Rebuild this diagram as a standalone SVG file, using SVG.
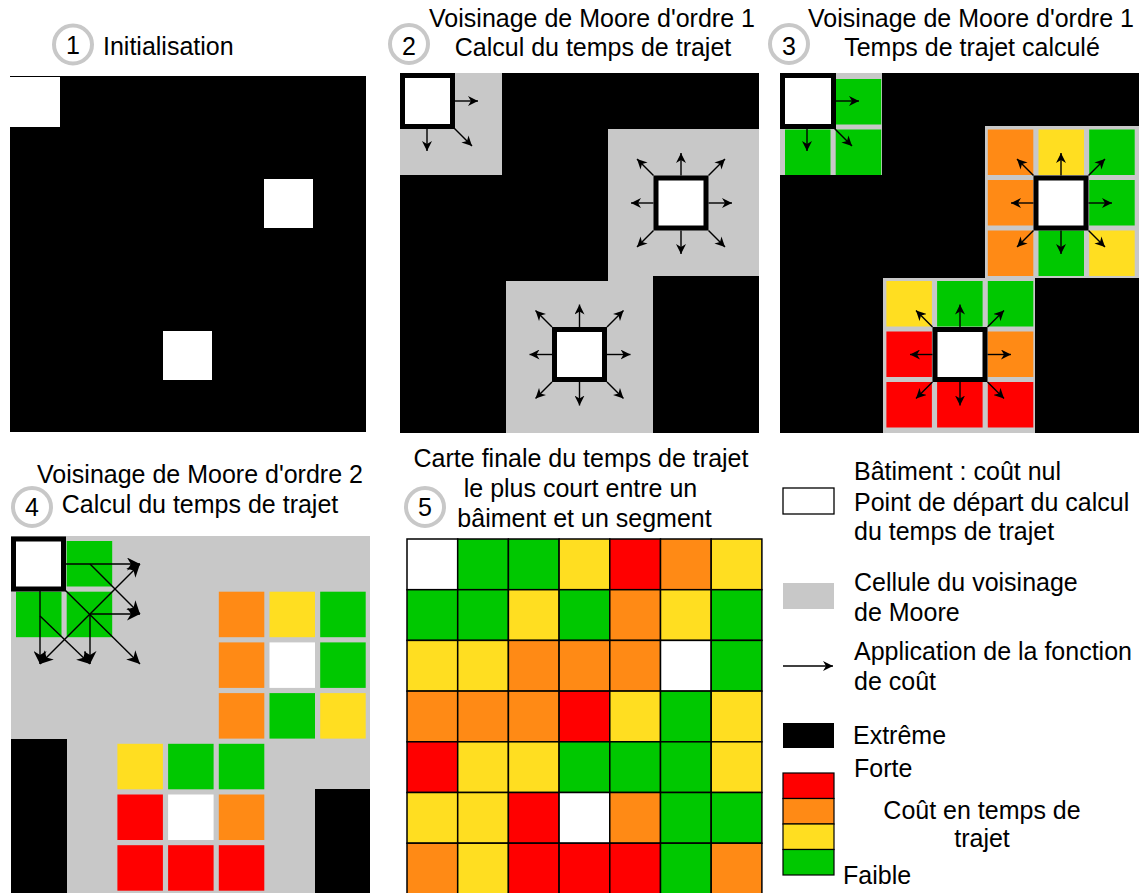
<svg xmlns="http://www.w3.org/2000/svg" width="1144" height="893" viewBox="0 0 1144 893">
<style>
.t{font-family:"Liberation Sans",Arial,Helvetica,sans-serif;font-size:25px;fill:#000}
.m{text-anchor:middle}
.num{fill:#fff;stroke:#c8c8c8;stroke-width:4}
.w{fill:#fff}.g{fill:#00c800}.y{fill:#ffde21}.o{fill:#ff8a15}.r{fill:#ff0000}.k{fill:#000}.gr{fill:#c8c8c8}
.box{fill:#fff;stroke:#000;stroke-width:5}
.a{stroke:#000;stroke-width:1.4;fill:none;marker-end:url(#ah)}
.aL{stroke:#000;stroke-width:1.4;fill:none;marker-end:url(#ahL)}
.c5 rect{stroke:#000;stroke-width:1.5}
</style>
<defs>
<marker id="ah" viewBox="0 0 10 10" refX="10" refY="5" markerWidth="10" markerHeight="10" markerUnits="userSpaceOnUse" orient="auto"><path d="M0,0 L10,5 L0,10 L3,5 z" fill="#000"/></marker>
<marker id="ahL" viewBox="0 0 10 10" refX="10" refY="5" markerWidth="13" markerHeight="13" markerUnits="userSpaceOnUse" orient="auto"><path d="M0,0 L10,5 L0,10 L3,5 z" fill="#000"/></marker>
<g id="star">
<line class="a" x1="0" y1="-27.5" x2="0" y2="-50"/>
<line class="a" x1="0" y1="27.5" x2="0" y2="51"/>
<line class="a" x1="27.5" y1="0" x2="51" y2="0"/>
<line class="a" x1="-27.5" y1="0" x2="-50" y2="0"/>
<line class="a" x1="27.5" y1="-27.5" x2="44" y2="-44"/>
<line class="a" x1="-27.5" y1="-27.5" x2="-44" y2="-44"/>
<line class="a" x1="27.5" y1="27.5" x2="44" y2="44"/>
<line class="a" x1="-27.5" y1="27.5" x2="-44" y2="44"/>
</g>
</defs>
<rect width="1144" height="893" fill="#fff"/>

<!-- Panel 1 -->
<g id="panel1">
<circle class="num" cx="73" cy="44.5" r="19"/>
<text class="t m" x="73" y="54">1</text>
<text class="t" x="103" y="55">Initialisation</text>
<rect class="k" x="10" y="76" width="356" height="356"/>
<rect class="w" x="10" y="77" width="50" height="50"/>
<rect class="w" x="264" y="179" width="49" height="49"/>
<rect class="w" x="163" y="331" width="49" height="49"/>
</g>

<!-- Panel 2 -->
<g id="panel2">
<circle class="num" cx="409" cy="44" r="19"/>
<text class="t m" x="409" y="55">2</text>
<text class="t m" x="592" y="27">Voisinage de Moore d'ordre 1</text>
<text class="t m" x="593" y="56">Calcul du temps de trajet</text>
<rect class="k" x="400" y="73" width="359" height="360"/>
<rect class="gr" x="400" y="73" width="102" height="102"/>
<polygon class="gr" points="608,129 759,129 759,276 653,276 653,433 506,433 506,281 608,281"/>
<rect class="box" x="402.5" y="75.5" width="50" height="51"/>
<rect class="box" x="656" y="178" width="50" height="50"/>
<rect class="box" x="554.5" y="329.5" width="50" height="50"/>
</g>

<!-- Panel 3 -->
<g id="panel3">
<circle class="num" cx="789" cy="44" r="19"/>
<text class="t m" x="789" y="55">3</text>
<text class="t m" x="971" y="27">Voisinage de Moore d'ordre 1</text>
<text class="t m" x="972" y="56">Temps de trajet calculé</text>
<rect class="k" x="780" y="73" width="359" height="360"/>
<rect class="gr" x="780" y="73" width="102" height="102"/>
<rect class="gr" x="985" y="126" width="154" height="152"/>
<rect class="gr" x="883" y="278" width="152" height="155"/>
<rect class="g" x="835.7" y="79" width="45.5" height="45.5"/>
<rect class="g" x="785" y="129.5" width="45.5" height="45.5"/>
<rect class="g" x="835.7" y="129.5" width="45.5" height="45.5"/>
<rect class="o" x="987.8" y="129.5" width="45.5" height="45.5"/>
<rect class="y" x="1038.5" y="129.5" width="45.5" height="45.5"/>
<rect class="g" x="1089.2" y="129.5" width="45.5" height="45.5"/>
<rect class="o" x="987.8" y="180" width="45.5" height="45.5"/>
<rect class="g" x="1089.2" y="180" width="45.5" height="45.5"/>
<rect class="o" x="987.8" y="230.5" width="45.5" height="45.5"/>
<rect class="g" x="1038.5" y="230.5" width="45.5" height="45.5"/>
<rect class="y" x="1089.2" y="230.5" width="45.5" height="45.5"/>
<rect class="y" x="886.4" y="281" width="45.5" height="45.5"/>
<rect class="g" x="937.1" y="281" width="45.5" height="45.5"/>
<rect class="g" x="987.8" y="281" width="45.5" height="45.5"/>
<rect class="r" x="886.4" y="331.5" width="45.5" height="45.5"/>
<rect class="o" x="987.8" y="331.5" width="45.5" height="45.5"/>
<rect class="r" x="886.4" y="382" width="45.5" height="45.5"/>
<rect class="r" x="937.1" y="382" width="45.5" height="45.5"/>
<rect class="r" x="987.8" y="382" width="45.5" height="45.5"/>
<rect class="box" x="782.5" y="75.5" width="51" height="51"/>
<rect class="box" x="1036" y="178" width="50" height="50"/>
<rect class="box" x="935" y="329.5" width="50" height="50"/>
</g>

<!-- Panel 4 -->
<g id="panel4">
<circle class="num" cx="32" cy="507" r="19"/>
<text class="t m" x="32" y="516">4</text>
<text class="t m" x="200" y="483">Voisinage de Moore d'ordre 2</text>
<text class="t m" x="200" y="513">Calcul du temps de trajet</text>
<rect class="gr" x="11" y="536" width="359" height="357"/>
<rect class="k" x="11" y="739" width="56" height="154"/>
<rect class="k" x="315" y="789" width="55" height="104"/>
<rect class="g" x="66.7" y="541" width="45.5" height="45.5"/>
<rect class="g" x="16" y="591.7" width="45.5" height="45.5"/>
<rect class="g" x="66.7" y="591.7" width="45.5" height="45.5"/>
<rect class="o" x="218.8" y="591.7" width="45.5" height="45.5"/>
<rect class="y" x="269.5" y="591.7" width="45.5" height="45.5"/>
<rect class="g" x="320.2" y="591.7" width="45.5" height="45.5"/>
<rect class="o" x="218.8" y="642.4" width="45.5" height="45.5"/>
<rect class="w" x="269.5" y="642.4" width="45.5" height="45.5"/>
<rect class="g" x="320.2" y="642.4" width="45.5" height="45.5"/>
<rect class="o" x="218.8" y="693.1" width="45.5" height="45.5"/>
<rect class="g" x="269.5" y="693.1" width="45.5" height="45.5"/>
<rect class="y" x="320.2" y="693.1" width="45.5" height="45.5"/>
<rect class="y" x="117.4" y="743.8" width="45.5" height="45.5"/>
<rect class="g" x="168.1" y="743.8" width="45.5" height="45.5"/>
<rect class="g" x="218.8" y="743.8" width="45.5" height="45.5"/>
<rect class="r" x="117.4" y="794.5" width="45.5" height="45.5"/>
<rect class="w" x="168.1" y="794.5" width="45.5" height="45.5"/>
<rect class="o" x="218.8" y="794.5" width="45.5" height="45.5"/>
<rect class="r" x="117.4" y="845.2" width="45.5" height="45.5"/>
<rect class="r" x="168.1" y="845.2" width="45.5" height="45.5"/>
<rect class="r" x="218.8" y="845.2" width="45.5" height="45.5"/>
<rect class="box" x="13.5" y="539" width="50" height="50"/>
</g>

<!-- Panel 5 -->
<g id="panel5">
<circle class="num" cx="425" cy="507" r="19"/>
<text class="t m" x="425" y="516">5</text>
<text class="t m" x="581" y="467">Carte finale du temps de trajet</text>
<text class="t m" x="580.5" y="497">le plus court entre un</text>
<text class="t m" x="584.5" y="527">bâiment et un segment</text>
<g class="c5">
<rect class="w" x="407" y="539" width="50.7" height="50.7"/>
<rect class="g" x="457.7" y="539" width="50.7" height="50.7"/>
<rect class="g" x="508.4" y="539" width="50.7" height="50.7"/>
<rect class="y" x="559.1" y="539" width="50.7" height="50.7"/>
<rect class="r" x="609.8" y="539" width="50.7" height="50.7"/>
<rect class="o" x="660.5" y="539" width="50.7" height="50.7"/>
<rect class="y" x="711.2" y="539" width="50.7" height="50.7"/>

<rect class="g" x="407" y="589.7" width="50.7" height="50.7"/>
<rect class="g" x="457.7" y="589.7" width="50.7" height="50.7"/>
<rect class="y" x="508.4" y="589.7" width="50.7" height="50.7"/>
<rect class="g" x="559.1" y="589.7" width="50.7" height="50.7"/>
<rect class="o" x="609.8" y="589.7" width="50.7" height="50.7"/>
<rect class="y" x="660.5" y="589.7" width="50.7" height="50.7"/>
<rect class="g" x="711.2" y="589.7" width="50.7" height="50.7"/>

<rect class="y" x="407" y="640.4" width="50.7" height="50.7"/>
<rect class="y" x="457.7" y="640.4" width="50.7" height="50.7"/>
<rect class="o" x="508.4" y="640.4" width="50.7" height="50.7"/>
<rect class="o" x="559.1" y="640.4" width="50.7" height="50.7"/>
<rect class="o" x="609.8" y="640.4" width="50.7" height="50.7"/>
<rect class="w" x="660.5" y="640.4" width="50.7" height="50.7"/>
<rect class="g" x="711.2" y="640.4" width="50.7" height="50.7"/>

<rect class="o" x="407" y="691.1" width="50.7" height="50.7"/>
<rect class="o" x="457.7" y="691.1" width="50.7" height="50.7"/>
<rect class="o" x="508.4" y="691.1" width="50.7" height="50.7"/>
<rect class="r" x="559.1" y="691.1" width="50.7" height="50.7"/>
<rect class="y" x="609.8" y="691.1" width="50.7" height="50.7"/>
<rect class="g" x="660.5" y="691.1" width="50.7" height="50.7"/>
<rect class="y" x="711.2" y="691.1" width="50.7" height="50.7"/>

<rect class="r" x="407" y="741.8" width="50.7" height="50.7"/>
<rect class="y" x="457.7" y="741.8" width="50.7" height="50.7"/>
<rect class="y" x="508.4" y="741.8" width="50.7" height="50.7"/>
<rect class="g" x="559.1" y="741.8" width="50.7" height="50.7"/>
<rect class="g" x="609.8" y="741.8" width="50.7" height="50.7"/>
<rect class="g" x="660.5" y="741.8" width="50.7" height="50.7"/>
<rect class="y" x="711.2" y="741.8" width="50.7" height="50.7"/>

<rect class="y" x="407" y="792.5" width="50.7" height="50.7"/>
<rect class="y" x="457.7" y="792.5" width="50.7" height="50.7"/>
<rect class="r" x="508.4" y="792.5" width="50.7" height="50.7"/>
<rect class="w" x="559.1" y="792.5" width="50.7" height="50.7"/>
<rect class="o" x="609.8" y="792.5" width="50.7" height="50.7"/>
<rect class="g" x="660.5" y="792.5" width="50.7" height="50.7"/>
<rect class="g" x="711.2" y="792.5" width="50.7" height="50.7"/>

<rect class="o" x="407" y="843.2" width="50.7" height="52"/>
<rect class="y" x="457.7" y="843.2" width="50.7" height="52"/>
<rect class="r" x="508.4" y="843.2" width="50.7" height="52"/>
<rect class="r" x="559.1" y="843.2" width="50.7" height="52"/>
<rect class="r" x="609.8" y="843.2" width="50.7" height="52"/>
<rect class="g" x="660.5" y="843.2" width="50.7" height="52"/>
<rect class="o" x="711.2" y="843.2" width="50.7" height="52"/>
</g>
</g>

<!-- Legend -->
<g id="legend">
<rect x="783" y="488" width="51" height="26" fill="#fff" stroke="#000" stroke-width="1.3"/>
<text class="t" x="854" y="480">Bâtiment : coût nul</text>
<text class="t" x="854" y="511">Point de départ du calcul</text>
<text class="t" x="854" y="540">du temps de trajet</text>
<rect class="gr" x="783" y="583" width="51" height="26"/>
<text class="t" x="854" y="591">Cellule du voisinage</text>
<text class="t" x="854" y="621">de Moore</text>
<line class="a" x1="783" y1="666" x2="833" y2="666"/>
<text class="t" x="854" y="660">Application de la fonction</text>
<text class="t" x="854" y="690">de coût</text>
<rect class="k" x="783" y="723" width="51" height="25"/>
<text class="t" x="853" y="744">Extrême</text>
<text class="t" x="854" y="777">Forte</text>
<g stroke="#000" stroke-width="1.2">
<rect class="r" x="783" y="773" width="51" height="25.5"/>
<rect class="o" x="783" y="798.5" width="51" height="25.5"/>
<rect class="y" x="783" y="824" width="51" height="25.5"/>
<rect class="g" x="783" y="849.5" width="51" height="25.5"/>
</g>
<text class="t m" x="982" y="819">Coût en temps de</text>
<text class="t m" x="982" y="847">trajet</text>
<text class="t" x="843" y="884">Faible</text>
</g>

<!-- Connectors -->
<g id="connectors">
<line class="a" x1="455" y1="101" x2="478" y2="101"/>
<line class="a" x1="427" y1="129" x2="427" y2="151"/>
<line class="a" x1="452" y1="126" x2="472" y2="146"/>
<use href="#star" x="681" y="203"/>
<use href="#star" x="579.5" y="354.5"/>
<line class="a" x1="836" y1="101" x2="859" y2="101"/>
<line class="a" x1="807" y1="129" x2="807" y2="151"/>
<line class="a" x1="832" y1="126" x2="852" y2="146"/>
<use href="#star" x="1061" y="203"/>
<use href="#star" x="960" y="354.5"/>
<line class="aL" x1="66" y1="564" x2="140" y2="564"/>
<line class="aL" x1="90" y1="564" x2="140" y2="614"/>
<line class="aL" x1="90" y1="614" x2="140" y2="614"/>
<line class="aL" x1="64" y1="589" x2="140" y2="664"/>
<line class="aL" x1="40" y1="591" x2="40" y2="664"/>
<line class="aL" x1="40" y1="616" x2="90" y2="664"/>
<line class="aL" x1="90" y1="614" x2="90" y2="664"/>
<line class="aL" x1="90" y1="614" x2="140" y2="564"/>
<line class="aL" x1="90" y1="614" x2="40" y2="664"/>
</g>
</svg>
